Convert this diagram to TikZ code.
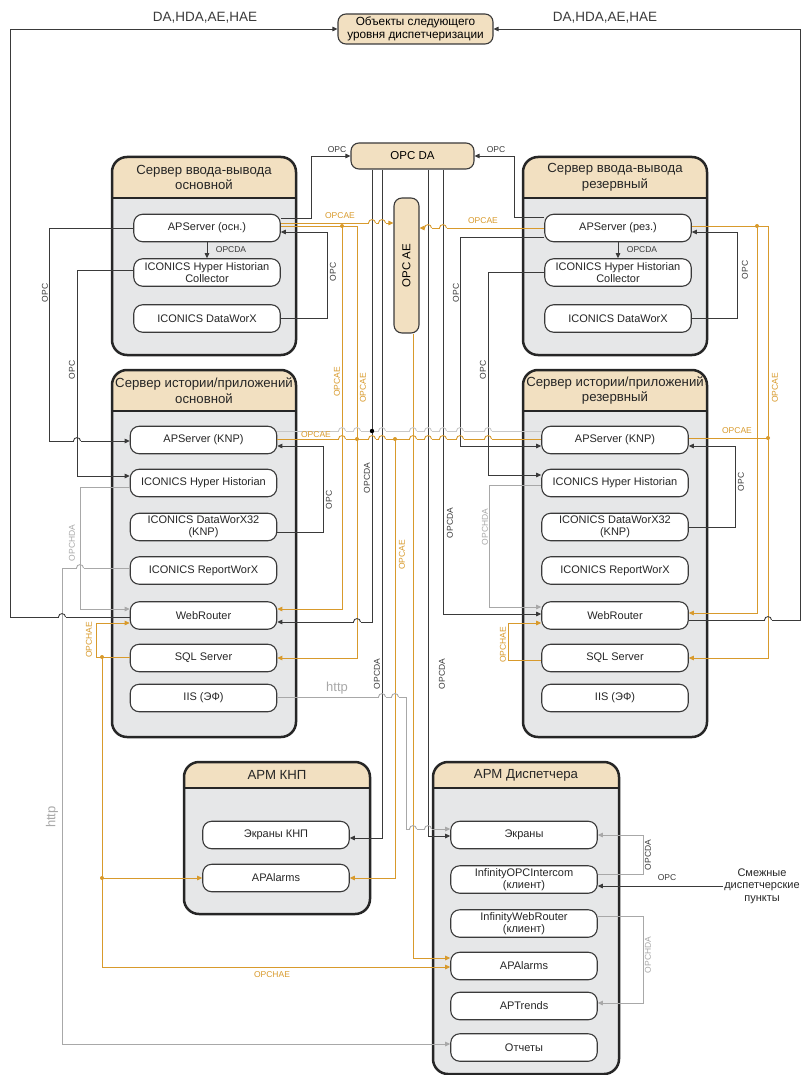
\documentclass[tikz,border=0pt]{standalone}
\usepackage{fontspec}
\setmainfont{Liberation Sans}
\usetikzlibrary{arrows.meta}

\definecolor{hdr}{HTML}{F2E0C1}
\definecolor{bodyg}{HTML}{E6E7E8}
\definecolor{dk}{HTML}{3A3A3A}
\definecolor{org}{HTML}{D89A2C}
\definecolor{lg}{HTML}{A8A8A8}
\definecolor{lk}{HTML}{C8C8C8}

\tikzset{
  blk/.style={draw=dk, fill=white, line width=1.1pt, rounded corners=9pt,
    minimum width=146.5pt, minimum height=27.5pt, inner sep=1pt, align=center,
    text=black!85, font=\fontsize{11}{12}\selectfont},
  hub/.style={draw=dk, fill=hdr, line width=1.1pt, rounded corners=8pt,
    inner sep=0pt, align=center, font=\fontsize{11.8}{13}\selectfont},
  ttl/.style={align=center, text=black!85, font=\fontsize{13.2}{15.5}\selectfont},
  lbl/.style={inner sep=0pt, font=\fontsize{8.5}{9}\selectfont, text=dk},
  wire/.style={line width=0.9pt, draw=dk},
  owire/.style={line width=0.9pt, draw=org},
  gwire/.style={line width=0.9pt, draw=lg},
  arr/.style={-{Triangle[length=5pt,width=4.5pt]}},
}

% контейнер: имя, x1, y1, x2, y2, низ шапки, заголовок
\newcommand{\srvbox}[7]{%
  \begin{scope}
    \clip[rounded corners=15pt] (#2,#3) rectangle (#4,#5);
    \fill[bodyg] (#2,#3) rectangle (#4,#5);
    \fill[hdr] (#2,#3) rectangle (#4,#6);
  \end{scope}
  \draw[line width=2.2pt, black!85] (#2,#6) -- (#4,#6);
  \draw[line width=2.5pt, black!85, rounded corners=15pt] (#2,#3) rectangle (#4,#5);
  \node[ttl] (#1) at ({(#2+#4)/2},{(#3+#6)/2}) {#7};
}
% перескок линии через вертикаль
\newcommand{\linehop}[4]{%
  \fill[white] (#1-3.5,#2-1.2) rectangle (#1+3.5,#2+1.2);
  \draw[line width=0.9pt, #4] (#1,#2-1.6) -- (#1,#2+1.6);
  \draw[line width=0.9pt, #3] (#1-3.5,#2) .. controls (#1-3.5,#2-4.5) and (#1+3.5,#2-4.5) .. (#1+3.5,#2);
}

\begin{document}
\begin{tikzpicture}[x=1pt, y=-1pt]
\useasboundingbox (0,0) rectangle (802,1075);

% серверы и АРМ
\srvbox{ioA}{112}{157}{296}{355}{198}{Сервер ввода-вывода\\основной}
\srvbox{ioB}{523}{157}{707}{355}{198}{Сервер ввода-вывода\\резервный}
\srvbox{hsA}{112}{370}{296}{737}{411}{Сервер истории/приложений\\основной}
\srvbox{hsB}{523}{370}{707}{737}{411}{Сервер истории/приложений\\резервный}
\srvbox{knp}{184}{762}{370}{914}{788}{АРМ КНП}
\srvbox{dsp}{433}{762}{619}{1074}{788}{АРМ Диспетчера}

\node[hub, minimum width=155pt, minimum height=30pt] (nxt) at (415.5,29) {Объекты следующего\\уровня диспетчеризации};
\node[hub, minimum width=123pt, minimum height=26pt, font=\fontsize{11.5}{13}\selectfont] (opcda) at (412.5,156) {OPC DA};
\node[hub, minimum width=25pt, minimum height=135pt,
  label={[rotate=90, font=\fontsize{11.5}{13}\selectfont]center:OPC AE}] (opcae) at (406.5,265.5) {};

% блоки
\foreach \s/\x/\t in {1/207/осн., 2/618/рез.} {
  \node[blk] (aps\s) at (\x,228) {APServer (\t)};
  \node[blk] (hhc\s) at (\x,272.5) {ICONICS Hyper Historian\\Collector};
  \node[blk] (dwx\s) at (\x,318.5) {ICONICS DataWorX};
}
\foreach \s/\x in {A/203.5, B/615} {
  \node[blk] (apk\s) at (\x,440) {APServer (KNP)};
  \node[blk] (hh\s) at (\x,483) {ICONICS Hyper Historian};
  \node[blk] (dwk\s) at (\x,527) {ICONICS DataWorX32\\(KNP)};
  \node[blk] (rwx\s) at (\x,570.5) {ICONICS ReportWorX};
  \node[blk] (web\s) at (\x,615.5) {WebRouter};
  \node[blk] (sql\s) at (\x,658) {SQL Server};
  \node[blk] (iis\s) at (\x,698) {IIS (ЭФ)};
}
\node[blk] (scrK) at (276,835) {Экраны КНП};
\node[blk] (alaK) at (276,878) {APAlarms};
\node[blk] (scrD) at (524,835) {Экраны};
\node[blk] (iocD) at (524,879.5) {InfinityOPCIntercom\\(клиент)};
\node[blk] (iwrD) at (524,923.5) {InfinityWebRouter\\(клиент)};
\node[blk] (alaD) at (524,966) {APAlarms};
\node[blk] (atrD) at (524,1006) {APTrends};
\node[blk] (repD) at (524,1047.5) {Отчеты};
\node[align=center, inner sep=1pt, text=black!85, font=\fontsize{11}{12.5}\selectfont] (smz) at (762,886) {Смежные\\диспетчерские\\пункты};

% DA,HDA,AE,HAE
\draw[wire, arr] (webA.west |- 0,617) -- (10,617) |- (nxt.west);
\draw[wire, arr] (webB.east |- 0,620) -- (800,620) |- (nxt.east);

% OPC к OPC DA
\draw[wire, arr] (aps1.east |- 0,218) -- (311,218) |- (opcda.west);
\draw[wire, arr] (aps2.west |- 0,217) -- (514,217) |- (opcda.east);

% OPCAE
\draw[owire, arr] (aps1.east |- 0,223) -- (opcae.west |- 0,223);
\draw[owire, arr] (aps2.west |- 0,228) -- (opcae.east |- 0,228);
\coordinate (jA) at (342,226);
\coordinate (jB) at (757,226);
\draw[owire, arr] (aps1.east |- 0,226) -| (357,658) -- (sqlA.east);
\draw[owire, arr] (jA) |- (webA.east |- 0,609);
\draw[owire, arr] (aps2.east |- 0,226) -| (768,658) -- (sqlB.east);
\draw[owire, arr] (jB) |- (webB.east |- 0,613);

% OPC DA вниз
\draw[wire, arr] (opcda.south -| 372,0) |- (webA.east |- 0,622);
\draw[wire, arr] (opcda.south -| 382,0) |- (scrK.east |- 0,838);
\draw[wire, arr] (opcda.south -| 428,0) |- (scrD.west |- 0,836);
\draw[wire, arr] (opcda.south -| 443,0) |- (webB.west |- 0,614);

% APServer (KNP) между собой
\draw[line width=0.9pt, lk] (apkA.east |- 0,431) -- (apkB.west |- 0,431);
\draw[owire] (apkA.east |- 0,439) -- (apkB.west |- 0,439);
\coordinate (jK) at (395,439);
\coordinate (jR) at (768,438);
\draw[owire, arr] (jK) |- (alaK.east);
\draw[owire] (apkB.east |- 0,438) -- (jR);
\draw[owire, arr] (opcae.south -| 413,0) |- (alaD.west |- 0,958);

% OPC внутри серверов
\draw[wire, arr] (aps1.south) -- (hhc1.north);
\draw[wire, arr] (aps2.south) -- (hhc2.north);
\draw[wire, arr] (aps1.west) -- (49,228) |- (apkA.west |- 0,441);
\draw[wire, arr] (hhc1.west |- 0,270) -- (77,270) |- (hhA.west |- 0,476);
\draw[wire, arr] (dwx1.east) -- (327,318.5) |- (aps1.east |- 0,232);
\draw[wire, arr] (dwkA.east |- 0,532) -- (323,532) |- (apkA.east |- 0,446);
\draw[wire, arr] (aps2.west |- 0,237) -- (460,237) |- (apkB.west |- 0,446);
\draw[wire, arr] (hhc2.west |- 0,272) -- (488,272) |- (hhB.west |- 0,475);
\draw[wire, arr] (dwx2.east) -- (737,318.5) |- (aps2.east |- 0,232);
\draw[wire, arr] (dwkB.east |- 0,527) -- (735,527) |- (apkB.east |- 0,446);

% OPCHDA и http
\draw[gwire, arr] (hhA.west |- 0,487) -- (80,487) |- (webA.west |- 0,609);
\draw[gwire, arr] (hhB.west |- 0,485) -- (489,485) |- (webB.west |- 0,607);
\draw[gwire, arr] (rwxA.west |- 0,568) -- (62,568) |- (repD.west |- 0,1044);
\draw[gwire, arr] (iisA.east |- 0,697) -- (406,697) |- (scrD.west |- 0,829);

% OPCHAE
\coordinate (jH) at (102,657);
\coordinate (jH2) at (102,878);
\draw[owire, arr] (sqlA.west |- 0,657) -- (96,657) |- (webA.west |- 0,623);
\draw[owire, arr] (jH) |- (alaD.west |- 0,967);
\draw[owire, arr] (jH2) -- (alaK.west);
\draw[owire, arr] (sqlB.west |- 0,660) -- (508,660) |- (webB.west |- 0,623);

% АРМ Диспетчера
\draw[gwire, arr] (iocD.east |- 0,874) -- (643,874) |- (scrD.east);
\draw[gwire, arr] (iwrD.east |- 0,916) -- (643,916) |- (atrD.east |- 0,1003);
\draw[wire, arr] (smz.west |- 0,886) -- (iocD.east |- 0,886);

% перескоки
\foreach \x/\c in {342/org,357/org,382/dk,413/org,428/dk,443/dk,460/dk,488/dk} \linehop{\x}{431}{lk}{\c};
\foreach \x/\c in {342/org,372/dk,382/dk,413/org,428/dk,443/dk,460/dk,488/dk} \linehop{\x}{439}{org}{\c};
\foreach \x in {372,382} \linehop{\x}{223}{org}{dk};
\foreach \x in {428,443} \linehop{\x}{228}{org}{dk};
\linehop{62}{617}{dk}{lg}
\linehop{768}{620}{dk}{org}
\linehop{77}{441}{dk}{dk}
\linehop{80}{568}{lg}{lg}
\linehop{357}{622}{dk}{org}
\linehop{382}{697}{lg}{dk}
\linehop{395}{697}{lg}{org}
\linehop{413}{829}{lg}{org}
\linehop{428}{829}{lg}{dk}

% точки
\foreach \p in {jA,jB,jK,jR,jH,jH2} \fill[org] (\p) circle (2pt);
\fill[org] (357,439) circle (2pt);
\fill[black] (372,431) circle (2.2pt);

% подписи
\node[font=\fontsize{13.5}{15}\selectfont, text=dk] (tL) at (205,18) {DA,HDA,AE,HAE};
\node[font=\fontsize{13.5}{15}\selectfont, text=dk] (tR) at (605,18) {DA,HDA,AE,HAE};
\node[lbl] (o1) at (337,150) {OPC};
\node[lbl] (o2) at (496,150) {OPC};
\node[lbl] (o3) at (667,878) {OPC};
\node[lbl] (d1) at (231,250) {OPCDA};
\node[lbl] (d2) at (642,250) {OPCDA};
\foreach \x/\y in {45/293, 72/370, 333/272, 329/500, 456/293, 483/370, 745/270, 741/482}
  \node[lbl, rotate=90] (r\x) at (\x,\y) {OPC};
\foreach \x/\y in {367/478, 377/674, 442/674, 450/523, 648/855}
  \node[lbl, rotate=90] (q\x) at (\x,\y) {OPCDA};
\foreach \x/\y in {72/543, 485/527, 648/955}
  \node[lbl, rotate=90, text=lg] (h\x) at (\x,\y) {OPCHDA};
\foreach \x/\y in {337/382, 363/388, 775/388, 402/555}
  \node[lbl, rotate=90, text=org] (e\x) at (\x,\y) {OPCAE};
\node[lbl, text=org] (e1) at (340,216) {OPCAE};
\node[lbl, text=org] (e2) at (483,221) {OPCAE};
\node[lbl, text=org] (e3) at (316,434.5) {OPCAE};
\node[lbl, text=org] (e4) at (737,431) {OPCAE};
\node[lbl, rotate=90, text=org] (a1) at (89,640) {OPCHAE};
\node[lbl, rotate=90, text=org] (a2) at (503,645) {OPCHAE};
\node[lbl, text=org] (a3) at (272,975) {OPCHAE};
\node[inner sep=0pt, text=lg, font=\fontsize{13}{14}\selectfont] (w1) at (337,688) {http};
\node[inner sep=0pt, text=lg, rotate=90, font=\fontsize{13}{14}\selectfont] (w2) at (52,817) {http};
\end{tikzpicture}
\end{document}
